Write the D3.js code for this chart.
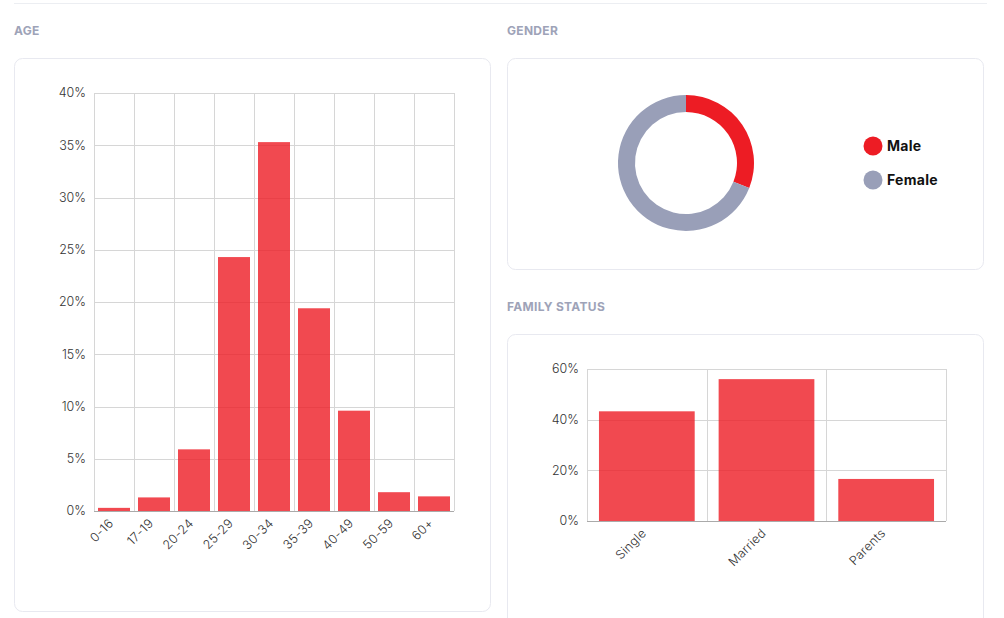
<!DOCTYPE html>
<html><head><meta charset="utf-8">
<script src="https://cdn.jsdelivr.net/npm/d3@7"></script>
<style>
html,body{margin:0;padding:0;background:#fff;}
svg{display:block;font-family:Inter,"Open Sans",sans-serif;}
</style></head>
<body>
<svg id="c" width="1004" height="618"></svg>
<script>
const ageCategories = ["0-16","17-19","20-24","25-29","30-34","35-39","40-49","50-59","60+"];
const ageValues = [0.3,1.3,5.9,24.3,35.3,19.4,9.6,1.8,1.4];
const ageTicks = [0,5,10,15,20,25,30,35,40];
const genderLabels = ["Male","Female"];
const genderValues = [31,69];
const genderColors = ["#ed1c24","#999fb8"];
const familyCategories = ["Single","Married","Parents"];
const familyValues = [43.3,56.0,16.6];
const familyTicks = [0,20,40,60];

const svg = d3.select("#c");
const barColor = "#ed1c24", gridColor = "#d6d6d6", titleColor = "#9ea3b8";

// top separator
svg.append("line").attr("x1",14).attr("x2",987).attr("y1",3.5).attr("y2",3.5).attr("stroke","#eceef2");

// titles
[["AGE",14,30.5],["GENDER",507,30.5],["FAMILY STATUS",507,306.5]].forEach(([t,x,y])=>{
  svg.append("text").attr("x",x).attr("y",y).attr("dy","0.35em").text(t)
    .attr("fill",titleColor).attr("font-size",12).attr("font-weight",700).attr("letter-spacing",0.3);
});
// cards
[[14.5,58.5,476,553],[507.5,58.5,476,211],[507.5,334.5,476,300]].forEach(([x,y,w,h])=>{
  svg.append("rect").attr("x",x).attr("y",y).attr("width",w).attr("height",h)
    .attr("rx",8).attr("fill","#fff").attr("stroke","#e8e9f0");
});

function barChart(cats, vals, ticks, x0, x1, y0, y1, maxV){
  const g = svg.append("g");
  const x = d3.scaleBand().domain(cats).range([x0,x1]).paddingInner(0.2).paddingOuter(0.1);
  const xg = d3.scaleBand().domain(cats).range([x0,x1]);
  const y = d3.scaleLinear().domain([0,maxV]).range([y1,y0]);
  g.selectAll(".hg").data(ticks).join("line")
    .attr("x1",x0).attr("x2",x1).attr("y1",d=>Math.round(y(d))+0.5).attr("y2",d=>Math.round(y(d))+0.5)
    .attr("stroke",gridColor);
  const edges = cats.map(c=>xg(c)).concat([x1]);
  g.selectAll(".vg").data(edges).join("line")
    .attr("x1",d=>Math.round(d)+0.5).attr("x2",d=>Math.round(d)+0.5).attr("y1",y0).attr("y2",y1)
    .attr("stroke",gridColor);
  g.selectAll(".b").data(vals).join("rect")
    .attr("x",(d,i)=>x(cats[i])).attr("width",x.bandwidth())
    .attr("y",d=>y(d)).attr("height",d=>y(0)-y(d))
    .attr("fill",barColor).attr("fill-opacity",0.8);
  g.append("line").attr("x1",x0).attr("x2",x1).attr("y1",Math.round(y(0))+0.5).attr("y2",Math.round(y(0))+0.5).attr("stroke","#aaa");
  g.selectAll(".yl").data(ticks).join("text")
    .attr("x",x0-8).attr("y",d=>y(d)).attr("dy","0.35em").attr("text-anchor","end")
    .attr("font-size",12.5).attr("font-weight",300).attr("fill","#333").text(d=>d+"%");
  g.selectAll(".xl").data(cats).join("text")
    .attr("transform",c=>`translate(${xg(c)+xg.bandwidth()/2-3},${y1+10}) rotate(-45)`)
    .attr("text-anchor","end").attr("dy","0.35em").attr("letter-spacing",0.2)
    .attr("font-size",12.5).attr("font-weight",300).attr("fill","#333").text(c=>c);
}
barChart(ageCategories, ageValues, ageTicks, 94, 454, 93, 511, 40);
barChart(familyCategories, familyValues, familyTicks, 587, 946, 369, 521, 60);

// donut
const pie = d3.pie().sort(null)(genderValues);
const arc = d3.arc().innerRadius(51).outerRadius(68);
const dg = svg.append("g").attr("transform","translate(686,163)");
dg.selectAll("path").data(pie).join("path").attr("d",arc).attr("fill",(d,i)=>genderColors[i]);
// legend
const lg = svg.append("g");
genderLabels.forEach((l,i)=>{
  lg.append("circle").attr("cx",873).attr("cy",146+i*34).attr("r",9.5).attr("fill",genderColors[i]);
  lg.append("text").attr("x",887).attr("y",146+i*34).attr("dy","0.35em").text(l)
    .attr("font-size",14).attr("font-weight",700).attr("fill","#111").attr("letter-spacing",0.3);
});
</script>
</body></html>
